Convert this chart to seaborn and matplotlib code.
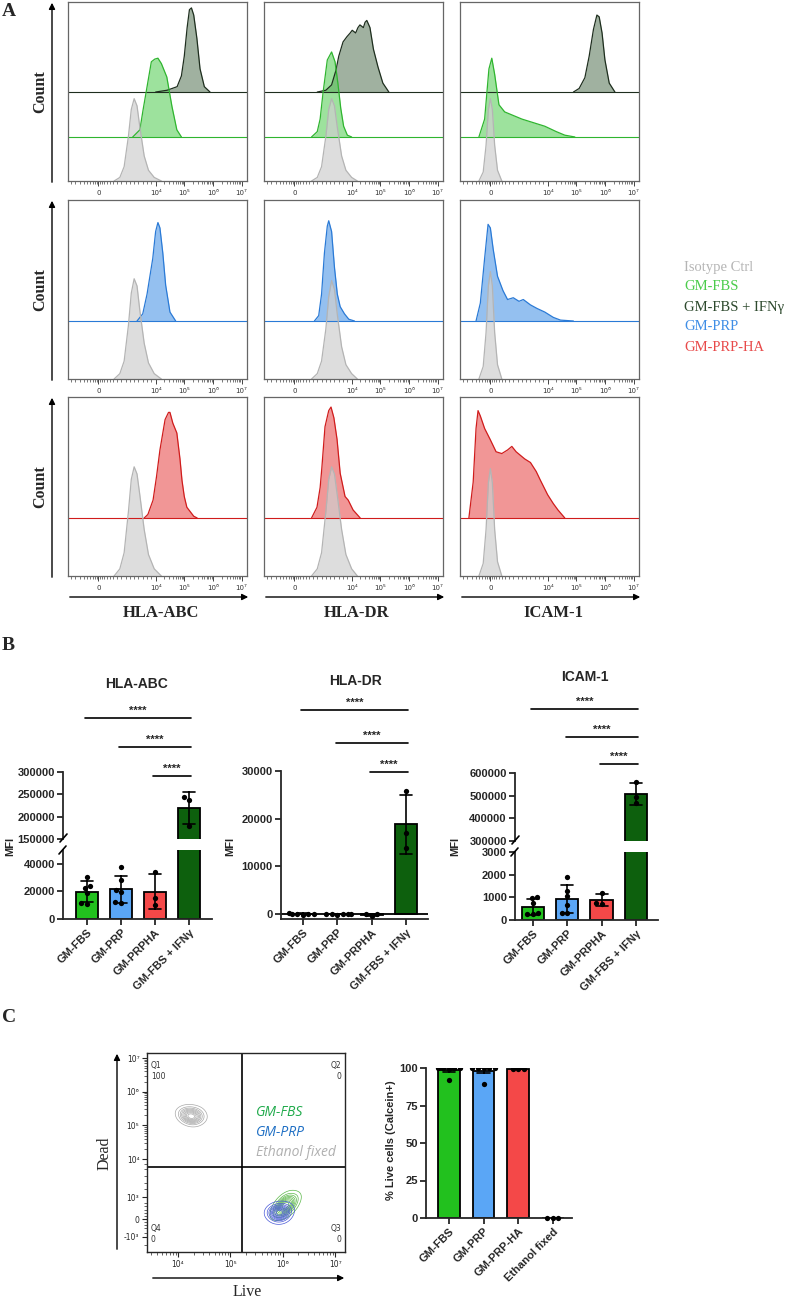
import matplotlib
matplotlib.use("Agg")
import numpy as np
import pandas as pd
import matplotlib.pyplot as plt
import seaborn as sns
from matplotlib.patches import FancyArrowPatch
from matplotlib.lines import Line2D

W, H = 796, 1299

# ---------------- panel A : flow histograms ----------------
# x = display position in decades (0 sits at 2), y = height above the curve baseline
iso_abc_x = [2.55, 2.75, 2.9, 3.05, 3.15, 3.25, 3.35, 3.45, 3.6, 3.75, 3.95, 4.2]
iso_abc_r1 = [0, 0.02, 0.08, 0.25, 0.4, 0.46, 0.42, 0.3, 0.14, 0.06, 0.02, 0]
iso_abc_r2 = [0, 0.03, 0.1, 0.3, 0.48, 0.56, 0.52, 0.38, 0.2, 0.09, 0.03, 0]
iso_abc_r3 = [0, 0.04, 0.13, 0.36, 0.54, 0.61, 0.57, 0.45, 0.26, 0.12, 0.04, 0]
fbs_abc_x = [3.2, 3.45, 3.56, 3.7, 3.85, 3.97, 4.08, 4.2, 4.39, 4.57, 4.74, 4.9]
fbs_abc_y = [0, 0.04, 0.15, 0.28, 0.42, 0.435, 0.44, 0.41, 0.335, 0.17, 0.04, 0]
ifn_abc_x = [4.0, 4.4, 4.75, 4.9, 5.0, 5.1, 5.18, 5.25, 5.33, 5.44, 5.55, 5.7, 5.9]
ifn_abc_y = [0, 0.01, 0.03, 0.09, 0.2, 0.36, 0.46, 0.47, 0.43, 0.3, 0.13, 0.03, 0]
prp_abc_x = [3.35, 3.55, 3.7, 3.8, 3.9, 4.0, 4.08, 4.15, 4.25, 4.35, 4.5, 4.7]
prp_abc_y = [0, 0.04, 0.15, 0.25, 0.35, 0.5, 0.55, 0.52, 0.38, 0.2, 0.05, 0]
pha_abc_x = [3.6, 3.73, 3.91, 4.03, 4.15, 4.33, 4.45, 4.5, 4.6, 4.74, 4.85, 4.92, 5.0, 5.09, 5.33, 5.45]
pha_abc_y = [0, 0.02, 0.1, 0.23, 0.38, 0.55, 0.59, 0.59, 0.53, 0.475, 0.33, 0.21, 0.12, 0.06, 0.01, 0]

iso_dr_x = [2.6, 2.8, 2.95, 3.1, 3.2, 3.3, 3.4, 3.5, 3.65, 3.8, 4.0, 4.2]
iso_dr_r1 = [0, 0.02, 0.08, 0.25, 0.4, 0.46, 0.42, 0.3, 0.14, 0.06, 0.02, 0]
iso_dr_r2 = [0, 0.03, 0.1, 0.28, 0.46, 0.55, 0.5, 0.36, 0.18, 0.08, 0.03, 0]
iso_dr_r3 = [0, 0.04, 0.13, 0.36, 0.54, 0.61, 0.57, 0.45, 0.26, 0.12, 0.04, 0]
fbs_dr_x = [2.6, 2.8, 2.9, 3.0, 3.15, 3.3, 3.42, 3.52, 3.62, 3.72, 3.85, 4.0]
fbs_dr_y = [0, 0.03, 0.1, 0.245, 0.43, 0.475, 0.42, 0.3, 0.16, 0.06, 0.01, 0]
ifn_dr_x = [2.8, 3.1, 3.3, 3.45, 3.55, 3.7, 3.84, 3.95, 4.02, 4.14, 4.22, 4.29,
            4.41, 4.47, 4.53, 4.64, 4.76, 4.92, 5.09, 5.3]
ifn_dr_y = [0, 0.01, 0.04, 0.12, 0.2, 0.28, 0.31, 0.33, 0.345, 0.33, 0.36, 0.375,
            0.36, 0.39, 0.4, 0.36, 0.24, 0.14, 0.05, 0]
prp_dr_x = [2.7, 2.85, 2.95, 3.05, 3.15, 3.2, 3.3, 3.4, 3.5, 3.6, 3.75, 3.9, 4.1]
prp_dr_y = [0, 0.03, 0.15, 0.38, 0.53, 0.56, 0.5, 0.3, 0.15, 0.08, 0.04, 0.01, 0]
pha_dr_x = [2.6, 2.79, 2.9, 2.96, 3.07, 3.2, 3.28, 3.38, 3.49, 3.6, 3.77, 3.88, 4.05, 4.3]
pha_dr_y = [0, 0.06, 0.17, 0.28, 0.51, 0.6, 0.62, 0.56, 0.44, 0.25, 0.12, 0.1, 0.045, 0]

iso_icam_x = [1.6, 1.75, 1.85, 1.93, 2.0, 2.07, 2.15, 2.25, 2.4]
iso_icam_r1 = [0, 0.05, 0.2, 0.4, 0.46, 0.4, 0.2, 0.06, 0]
iso_icam_r2 = [0, 0.07, 0.26, 0.52, 0.6, 0.52, 0.26, 0.08, 0]
iso_icam_r3 = [0, 0.07, 0.26, 0.52, 0.6, 0.52, 0.26, 0.08, 0]
fbs_icam_x = [1.6, 1.8, 1.95, 2.05, 2.15, 2.3, 2.5, 2.8, 3.1, 3.5, 3.9, 4.3, 4.6, 4.95]
fbs_icam_y = [0, 0.1, 0.38, 0.44, 0.35, 0.18, 0.14, 0.12, 0.1, 0.08, 0.06, 0.03, 0.01, 0]
ifn_icam_x = [4.9, 5.1, 5.3, 5.45, 5.6, 5.72, 5.8, 5.9, 6.0, 6.15, 6.35]
ifn_icam_y = [0, 0.02, 0.08, 0.2, 0.35, 0.43, 0.42, 0.33, 0.18, 0.05, 0]
prp_icam_x = [1.5, 1.65, 1.8, 1.92, 2.0, 2.1, 2.25, 2.44, 2.6, 2.8, 3.0, 3.15, 3.4,
              3.63, 3.9, 4.2, 4.45, 4.9]
prp_icam_y = [0, 0.1, 0.35, 0.54, 0.52, 0.4, 0.25, 0.17, 0.12, 0.13, 0.11, 0.12, 0.09,
              0.07, 0.05, 0.02, 0.005, 0]
pha_icam_x = [1.25, 1.4, 1.5, 1.57, 1.65, 1.8, 1.99, 2.2, 2.4, 2.6, 2.75, 2.9, 3.05,
              3.2, 3.4, 3.6, 3.75, 4.0, 4.2, 4.36, 4.6]
pha_icam_y = [0, 0.2, 0.5, 0.6, 0.57, 0.5, 0.44, 0.37, 0.36, 0.38, 0.4, 0.37, 0.35,
              0.33, 0.31, 0.26, 0.21, 0.13, 0.08, 0.045, 0]

markers = ["HLA-ABC", "HLA-DR", "ICAM-1"]
legend_labels = ["Isotype Ctrl", "GM-FBS", "GM-FBS + IFNγ", "GM-PRP", "GM-PRP-HA"]
hist_ticks = [2, 4, 5, 6, 7]
hist_tick_labels = ["0", "10⁴", "10⁵", "10⁶", "10⁷"]

# ---------------- panel B : MFI ----------------
groups_b = ["GM-FBS", "GM-PRP", "GM-PRPHA", "GM-FBS + IFNγ"]
abc_fbs = [30500, 22500, 24000, 19000, 11500, 11000]
abc_prp = [37500, 28000, 21000, 19500, 11500, 12000]
abc_pha = [34000, 15000, 10500]
abc_ifn = [243000, 238000, 178000]
dr_fbs = [150, 80, 0, -60, -150, 100]
dr_prp = [60, 20, 0, -40, -120, 80]
dr_pha = [-400, 30, -30]
dr_ifn = [25800, 16900, 13750]
icam_fbs = [1000, 960, 730, 250, 280, 300]
icam_prp = [1900, 1300, 1050, 650, 320, 320]
icam_pha = [1170, 760, 700]
icam_ifn = [560000, 492000, 468000]
# significance brackets: (from group, to group, height in data units)
sig_abc = [(0, 3, 421000), (1, 3, 356000), (2, 3, 291000)]
sig_dr = [(0, 3, 42800), (1, 3, 35900), (2, 3, 29800)]
sig_icam = [(0, 3, 882000), (1, 3, 759000), (2, 3, 640000)]

# ---------------- panel C : viability ----------------
groups_c = ["GM-FBS", "GM-PRP", "GM-PRP-HA", "Ethanol fixed"]
live_fbs = [100, 100, 99.6, 100, 99.8, 92]
live_prp = [100, 99.7, 100, 100, 99.8, 89.5]
live_pha = [99.5, 99.3, 99.6]
live_eth = [0.2, 0.1, 0.3]
# events for contour plot (x: Live, y: Dead, display decades)
grey_x = [4.16, 4.22, 4.29, 4.35, 4.19, 4.32, 4.27, 4.24, 4.38, 4.13]
grey_y = [5.24, 5.43, 5.17, 5.40, 5.30, 5.24, 5.30, 5.17, 5.27, 5.37]
green_x = [5.95, 6.02, 6.08, 6.15, 5.98, 6.11, 6.05, 6.18, 5.95, 6.08]
green_y = [2.51, 2.74, 2.48, 2.67, 2.64, 2.58, 2.61, 2.77, 2.45, 2.80]
blue_x = [5.85, 5.91, 5.98, 6.04, 5.88, 6.01, 5.95, 5.82, 6.04, 5.91]
blue_y = [2.35, 2.54, 2.28, 2.44, 2.47, 2.37, 2.41, 2.44, 2.54, 2.28]
flow_x_ticks = [4, 5, 6, 7]
flow_x_labels = ["10⁴", "10⁵", "10⁶", "10⁷"]
flow_y_ticks = [1.69, 2.22, 2.87, 4, 5, 6, 7]
flow_y_labels = ["-10³", "0", "10³", "10⁴", "10⁵", "10⁶", "10⁷"]
quad_labels = [("Q1", "100"), ("Q2", "0"), ("Q3", "0"), ("Q4", "0")]

bar_colors = ["#22c11e", "#5aa6f6", "#f44848", "#0d600d"]

sns.set_style("ticks")
plt.rcParams["font.family"] = ["Liberation Sans", "DejaVu Sans"]
plt.rcParams["font.weight"] = "bold"
plt.rcParams["axes.linewidth"] = 1.3

fig = plt.figure(figsize=(W / 100, H / 100), dpi=100)


def add_ax(x0, y0, x1, y1):
    return fig.add_axes([x0 / W, 1 - y1 / H, (x1 - x0) / W, (y1 - y0) / H])


def ftext(x, y, s, **kw):
    fig.text(x / W, 1 - y / H, s, **kw)


def farrow(x0, y0, x1, y1):
    fig.add_artist(FancyArrowPatch((x0 / W, 1 - y0 / H), (x1 / W, 1 - y1 / H),
                                   transform=fig.transFigure, arrowstyle="-|>",
                                   mutation_scale=9, lw=1.0, color="k"))


def fline(x0, y0, x1, y1, lw=1.2):
    fig.add_artist(Line2D([x0 / W, x1 / W], [1 - y0 / H, 1 - y1 / H],
                          transform=fig.transFigure, color="k", lw=lw))


serif = ["Liberation Serif", "DejaVu Serif"]

# ======================= A =======================
hist_style = {
    "iso": ("#b4b4b4", "#cfcfcf", 0.7),
    "fbs": ("#2fb52f", "#5ccf5c", 0.6),
    "ifn": ("#1e2e1e", "#5c7a5c", 0.58),
    "prp": ("#2a7ad6", "#4d97e6", 0.6),
    "pha": ("#d01c1c", "#e85050", 0.6),
}
hist_base = [{"iso": 0, "fbs": 0.246, "ifn": 0.497},
             {"iso": 0, "prp": 0.324},
             {"iso": 0, "pha": 0.324}]
hist_panels = [
    [[("ifn", ifn_abc_x, ifn_abc_y), ("fbs", fbs_abc_x, fbs_abc_y), ("iso", iso_abc_x, iso_abc_r1)],
     [("ifn", ifn_dr_x, ifn_dr_y), ("fbs", fbs_dr_x, fbs_dr_y), ("iso", iso_dr_x, iso_dr_r1)],
     [("ifn", ifn_icam_x, ifn_icam_y), ("fbs", fbs_icam_x, fbs_icam_y), ("iso", iso_icam_x, iso_icam_r1)]],
    [[("prp", prp_abc_x, prp_abc_y), ("iso", iso_abc_x, iso_abc_r2)],
     [("prp", prp_dr_x, prp_dr_y), ("iso", iso_dr_x, iso_dr_r2)],
     [("prp", prp_icam_x, prp_icam_y), ("iso", iso_icam_x, iso_icam_r2)]],
    [[("pha", pha_abc_x, pha_abc_y), ("iso", iso_abc_x, iso_abc_r3)],
     [("pha", pha_dr_x, pha_dr_y), ("iso", iso_dr_x, iso_dr_r3)],
     [("pha", pha_icam_x, pha_icam_y), ("iso", iso_icam_x, iso_icam_r3)]],
]
hist_minor = [1.05, 1.2, 1.35, 1.5, 1.6, 1.7, 1.8, 1.88, 1.95, 2.05, 2.12, 2.2, 2.3,
              2.4, 2.5, 2.65, 2.8, 2.95, 3.1, 3.25, 3.4, 3.55, 3.7, 3.85]
hist_minor += [d + np.log10(k) for d in range(4, 7) for k in range(2, 10)]

col_x0 = [68, 264, 460]
row_y0 = [2, 200, 397]
for r in range(3):
    for c in range(3):
        ax = add_ax(col_x0[c], row_y0[r], col_x0[c] + 179, row_y0[r] + 179)
        for name, xs, ys in hist_panels[r][c]:
            line, fill, alpha = hist_style[name]
            base = hist_base[r][name]
            if base > 0:
                ax.axhline(base, color=line, lw=0.8)
            yy = [base + v for v in ys]
            ax.fill_between(xs, base, yy, color=fill, alpha=alpha, lw=0)
            sns.lineplot(x=xs, y=yy, ax=ax, color=line, lw=0.9, sort=False, estimator=None)
        ax.set_xlim(0.94, 7.19)
        ax.set_ylim(0, 1)
        ax.set_yticks([])
        ax.set_xticks(hist_ticks)
        ax.set_xticklabels(hist_tick_labels, fontsize=5, fontweight="normal",
                           family="DejaVu Sans", color="#333333")
        ax.set_xticks(hist_minor, minor=True)
        ax.tick_params(axis="x", which="major", length=3.5, width=0.7, pad=3, color="#444444")
        ax.tick_params(axis="x", which="minor", length=2, width=0.5, color="#444444")
        for s in ax.spines.values():
            s.set_color("#666666")
            s.set_linewidth(0.9)
    # Count label + arrow for each row
    farrow(52, row_y0[r] + 183, 52, row_y0[r] - 2)
    ftext(40, row_y0[r] + 90, "Count", rotation=90, ha="center", va="center",
          fontsize=11.5, fontweight="bold", family=serif)

for c in range(3):
    farrow(col_x0[c] - 1, 597, col_x0[c] + 183, 597)
    ftext(col_x0[c] + 93, 613, markers[c], ha="center", va="center",
          fontsize=12, fontweight="bold", family=serif)

leg_colors = ["#b5b5b5", "#4ccc4c", "#2e4a2e", "#3f8ee6", "#e84a4a"]
for i, (lab, col) in enumerate(zip(legend_labels, leg_colors)):
    ftext(684, 267 + i * 20, lab, ha="left", va="center", fontsize=10.5,
          fontweight="normal", family=serif, color=col)

ftext(2, 11, "A", ha="left", va="center", fontsize=14, fontweight="bold", family=serif)
ftext(2, 645, "B", ha="left", va="center", fontsize=14, fontweight="bold", family=serif)
ftext(2, 1017, "C", ha="left", va="center", fontsize=14, fontweight="bold", family=serif)


# ======================= B =======================
def make_df(groups, vals_list):
    rows = []
    for g, vals in zip(groups, vals_list):
        for v in vals:
            rows.append({"group": g, "value": v})
    return pd.DataFrame(rows)


def draw_bars(ax, df, order, width=0.65, size=3.8):
    sns.barplot(data=df, x="group", y="value", hue="group", order=order, hue_order=order,
                palette=bar_colors, saturation=1, legend=False, errorbar="sd", capsize=0.35,
                err_kws={"color": "k", "linewidth": 1.2}, edgecolor="k", linewidth=1.3,
                width=width, ax=ax)
    sns.swarmplot(data=df, x="group", y="value", order=order, color="k", size=size, ax=ax)
    ax.set_xlabel("")
    ax.set_ylabel("")


def style_ax(ax):
    sns.despine(ax=ax)
    ax.tick_params(width=1.3, length=4, labelsize=8, pad=2)


def set_xlabels(ax, order):
    ax.set_xticks(range(len(order)))
    ax.set_xticklabels(order, rotation=45, ha="right", va="top", rotation_mode="anchor",
                       fontsize=8, fontweight="bold")


def sig_brackets(ax, sigs):
    for a, b, y in sigs:
        ax.plot([a - 0.05, b + 0.05], [y, y], color="k", lw=1.2, clip_on=False)
        ax.annotate("****", xy=((a + b) / 2, y), xytext=(0, 1.5), textcoords="offset points",
                    ha="center", va="bottom", fontsize=8, fontweight="bold",
                    annotation_clip=False)


def broken_chart(x0, x1, up_px, low_px, up_lim, low_lim, up_ticks, low_ticks, xlim, df, sigs):
    ax_u = add_ax(x0, up_px[0], x1, up_px[1])
    ax_l = add_ax(x0, low_px[0], x1, low_px[1])
    for ax, lim, ticks in [(ax_u, up_lim, up_ticks), (ax_l, low_lim, low_ticks)]:
        draw_bars(ax, df, groups_b)
        ax.set_ylim(lim)
        ax.set_yticks(ticks)
        ax.set_yticklabels([str(t) for t in ticks])
        ax.set_xlim(xlim)
        style_ax(ax)
    ax_u.spines["bottom"].set_visible(False)
    ax_u.tick_params(axis="x", bottom=False, labelbottom=False)
    set_xlabels(ax_l, groups_b)
    sig_brackets(ax_u, sigs)
    # break marks on the y axis
    fline(x0 - 3, up_px[1] + 3, x0 + 4, up_px[1] - 5)
    fline(x0 - 4, low_px[0] + 4, x0 + 3, low_px[0] - 4)
    return ax_u, ax_l


df_abc = make_df(groups_b, [abc_fbs, abc_prp, abc_pha, abc_ifn])
df_dr = make_df(groups_b, [dr_fbs, dr_prp, dr_pha, dr_ifn])
df_icam = make_df(groups_b, [icam_fbs, icam_prp, icam_pha, icam_ifn])

broken_chart(63, 212, (772, 839), (850, 919), (150000, 300000), (0, 50000),
             [150000, 200000, 250000, 300000], [0, 20000, 40000], (-0.7, 3.68), df_abc, sig_abc)
broken_chart(515, 658, (773, 841), (852, 920), (300000, 600000), (0, 3000),
             [300000, 400000, 500000, 600000], [0, 1000, 2000, 3000], (-0.52, 3.64), df_icam, sig_icam)

ax_dr = add_ax(281, 771, 428, 919)
draw_bars(ax_dr, df_dr, groups_b)
ax_dr.axhline(0, color="k", lw=1.3)
ax_dr.set_ylim(-1050, 30000)
ax_dr.set_yticks([0, 10000, 20000, 30000])
ax_dr.set_yticklabels(["0", "10000", "20000", "30000"])
ax_dr.set_xlim(-0.64, 3.64)
style_ax(ax_dr)
set_xlabels(ax_dr, groups_b)
sig_brackets(ax_dr, sig_dr)

ftext(137, 684, "HLA-ABC", ha="center", va="center", fontsize=10, fontweight="bold")
ftext(355, 681, "HLA-DR", ha="center", va="center", fontsize=10, fontweight="bold")
ftext(585, 677, "ICAM-1", ha="center", va="center", fontsize=10, fontweight="bold")
for mx in [10, 230, 455]:
    ftext(mx, 846, "MFI", rotation=90, ha="center", va="center", fontsize=8, fontweight="bold")

# ======================= C =======================
# contour plot
axf = add_ax(147, 1053, 345, 1252)
sns.kdeplot(x=grey_x, y=grey_y, levels=10, bw_adjust=1.8, color="#a8a8a8", linewidths=0.5, ax=axf)
sns.kdeplot(x=green_x, y=green_y, levels=10, bw_adjust=1.8, color="#5cb84a", linewidths=0.5, ax=axf)
sns.kdeplot(x=blue_x, y=blue_y, levels=10, bw_adjust=1.8, color="#4a5ad8", linewidths=0.5, ax=axf)
axf.set_xlim(3.41, 7.19)
axf.set_ylim(1.24, 7.15)
axf.axvline(5.23, color="k", lw=1.2)
axf.axhline(3.76, color="k", lw=1.2)
axf.set_xticks(flow_x_ticks)
axf.set_xticklabels(flow_x_labels, fontsize=5.5, fontweight="normal", family="DejaVu Sans")
axf.set_yticks(flow_y_ticks)
axf.set_yticklabels(flow_y_labels, fontsize=5.5, fontweight="normal", family="DejaVu Sans")
axf.set_xticks([d + np.log10(k) for d in range(3, 7) for k in range(2, 10)
                if 3.41 < d + np.log10(k) < 7.19], minor=True)
axf.set_yticks([d + np.log10(k) for d in range(4, 7) for k in range(2, 10)]
               + [1.45, 1.8, 1.95, 2.05, 2.12, 2.3, 2.4, 2.5, 2.6, 2.7, 3.1, 3.3, 3.5, 3.7, 3.85],
               minor=True)
axf.tick_params(which="major", length=3.5, width=0.8, pad=2)
axf.tick_params(which="minor", length=2, width=0.5)
axf.set_xlabel("")
axf.set_ylabel("")
for s in axf.spines.values():
    s.set_linewidth(1.0)
qpos = [(0.02, 0.96, "left"), (0.98, 0.96, "right"), (0.98, 0.14, "right"), (0.02, 0.14, "left")]
for (q, v), (qx, qy, ha) in zip(quad_labels, qpos):
    axf.text(qx, qy, q, transform=axf.transAxes, ha=ha, va="top", fontsize=5.5,
             fontweight="normal", family="DejaVu Sans", color="#333333")
    axf.text(qx, qy - 0.055, v, transform=axf.transAxes, ha=ha, va="top", fontsize=5.5,
             fontweight="normal", family="DejaVu Sans", color="#333333")
flow_leg = [("GM-FBS", "#1faa4a"), ("GM-PRP", "#1f6fc4"), ("Ethanol fixed", "#b0b0b0")]
for i, (lab, col) in enumerate(flow_leg):
    ftext(256, 1112 + i * 20, lab, ha="left", va="center", fontsize=10, style="italic",
          fontweight="normal", family=["Open Sans", "DejaVu Sans"], color=col)
farrow(150, 1278, 347, 1278)
farrow(117, 1252, 117, 1051)
ftext(247, 1292, "Live", ha="center", va="center", fontsize=11.5, fontweight="normal", family=serif)
ftext(105, 1153, "Dead", rotation=90, ha="center", va="center", fontsize=11.5,
      fontweight="normal", family=serif)

# viability bars
df_live = make_df(groups_c, [live_fbs, live_prp, live_pha, live_eth])
axc = add_ax(426, 1068, 572, 1218)
sns.barplot(data=df_live, x="group", y="value", hue="group", order=groups_c, hue_order=groups_c,
            palette=bar_colors[:3] + ["#ffffff"], saturation=1, legend=False, errorbar="se",
            capsize=0.35, err_kws={"color": "k", "linewidth": 1.2}, edgecolor="k",
            linewidth=1.3, width=0.63, ax=axc)
sns.swarmplot(data=df_live, x="group", y="value", order=groups_c, color="k", size=3.8, ax=axc)
axc.collections[-1].set_clip_on(False)
axc.set_ylim(0, 100)
axc.set_yticks([0, 25, 50, 75, 100])
axc.set_yticklabels(["0", "25", "50", "75", "100"])
axc.set_xlim(-0.66, 3.55)
axc.set_xlabel("")
axc.set_ylabel("")
style_ax(axc)
set_xlabels(axc, groups_c)
ftext(391, 1140, "% Live cells (Calcein+)", rotation=90, ha="center", va="center",
      fontsize=8, fontweight="bold")

fig.savefig("out.png", dpi=100)
